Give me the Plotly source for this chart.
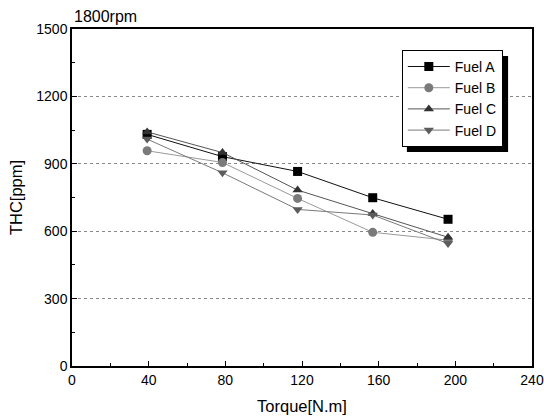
import plotly.graph_objects as go

# Engine torque (N.m) at 1800 rpm and measured THC emissions (ppm)
torque = [39.2, 78.5, 117.7, 156.9, 196.2]
fuel_names = ["Fuel A", "Fuel B", "Fuel C", "Fuel D"]
thc_a = [1031, 932, 866, 749, 653]
thc_b = [958, 906, 746, 595, 560]
thc_c = [1042, 950, 783, 679, 573]
thc_d = [1010, 860, 697, 672, 545]

x_ticks = [0, 40, 80, 120, 160, 200, 240]
y_ticks = [0, 300, 600, 900, 1200, 1500]

series = [thc_a, thc_b, thc_c, thc_d]
symbols = ["square", "circle", "triangle-up", "triangle-down"]
marker_colors = ["#000000", "#7a7a7a", "#333333", "#5c5c5c"]
line_colors = ["#111111", "#9a9a9a", "#555555", "#7a7a7a"]

fig = go.Figure()
for name, vals, sym, mc, lc in zip(fuel_names, series, symbols, marker_colors, line_colors):
    fig.add_trace(go.Scatter(
        x=torque, y=vals, name=name, mode="lines+markers",
        line=dict(color=lc, width=1),
        marker=dict(symbol=sym, color=mc, size=9, line=dict(width=0)),
    ))

font = "Liberation Sans, Arial, sans-serif"
axis_common = dict(
    showline=True, linecolor="black", linewidth=1.5, mirror=True,
    ticks="inside", ticklen=5, tickcolor="black", zeroline=False,
    automargin=False,
    tickfont=dict(size=14, color="black", family=font),
)

fig.update_layout(
    width=544, height=420,
    margin=dict(l=72, r=12, t=29, b=54),
    paper_bgcolor="white", plot_bgcolor="white",
    font=dict(family=font, color="black"),
    xaxis=dict(range=[0, 240], tickvals=x_ticks, showgrid=False,
               minor=dict(dtick=20, tick0=0, ticks="inside", ticklen=3, tickcolor="black"),
               title=dict(text="Torque[N.m]", font=dict(size=16.5), standoff=14),
               **axis_common),
    yaxis=dict(range=[0, 1500], tickvals=y_ticks, showgrid=True,
               gridcolor="#888888", griddash="dot", gridwidth=1,
               minor=dict(dtick=150, tick0=0, ticks="inside", ticklen=3, tickcolor="black", showgrid=False),
               title=dict(text="THC[ppm]", font=dict(size=16.5), standoff=10),
               **axis_common),
    legend=dict(x=0.717, y=0.938, xanchor="left", yanchor="top",
                bgcolor="white", bordercolor="black", borderwidth=1,
                font=dict(size=14, family=font), tracegroupgap=0,
                itemwidth=42),
    annotations=[dict(text="1800rpm", x=0, y=1, xref="paper", yref="paper",
                      xanchor="left", yanchor="bottom", yshift=2, showarrow=False,
                      font=dict(size=16, family=font))],
    # drop shadow behind the legend box
    shapes=[dict(type="rect", xref="paper", yref="paper",
                 x0=0.728, x1=0.948, y0=0.635, y1=0.92,
                 fillcolor="black", line=dict(width=0), layer="above")],
)

fig.write_html("out.html")
